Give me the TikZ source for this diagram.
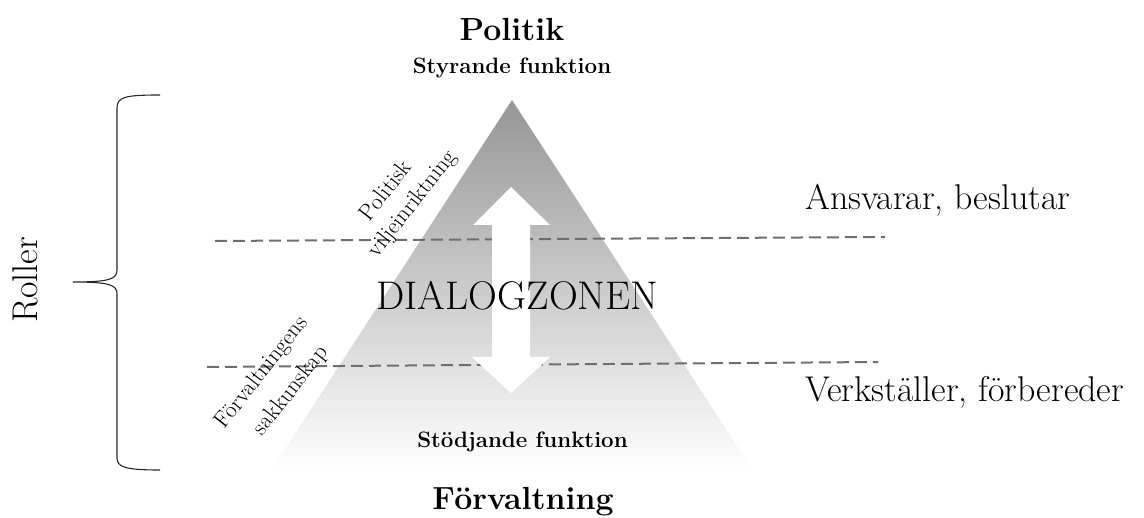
\documentclass[tikz,border=0pt]{standalone}
\usepackage{fontspec}
\begin{document}
\begin{tikzpicture}[x=1pt,y=-1pt,
  dashline/.style={draw={rgb,255:red,110;green,110;blue,110},line width=2pt,dash pattern=on 12pt off 6pt},
  bigbold/.style={inner sep=0pt,font=\fontsize{32}{38}\selectfont\bfseries},
  subbold/.style={inner sep=0pt,font=\fontsize{22.3}{27}\selectfont\bfseries},
  sidetext/.style={inner sep=0pt,font=\fontsize{35.8}{43}\selectfont},
  slanttext/.style={inner sep=0pt,rotate=52,font=\fontsize{23}{27}\selectfont},
  bracestyle/.style={draw={rgb,255:red,40;green,40;blue,40},line width=1.1pt}
]
\useasboundingbox (0,0) rectangle (1144,518);
% pyramid
\shade[top color={rgb,255:red,150;green,150;blue,150},bottom color=white]
  (512,100) -- (754,472) -- (270,472) -- cycle;
% dashed lines
\coordinate (d1a) at (215,241);
\coordinate (d1b) at (885,237);
\coordinate (d2a) at (207,367);
\coordinate (d2b) at (878,362);
\draw[dashline] (d1a) -- (d1b);
\draw[dashline] (d2a) -- (d2b);
% white double arrow
\fill[white] (511,187) -- (550,225) -- (530,225) -- (530,357) -- (550,357) -- (511,393)
  -- (472,357) -- (492,357) -- (492,225) -- (473,225) -- cycle;
% brace
\draw[bracestyle] (160,95) .. controls (125,95) and (117,97) .. (117,108) -- (117,270)
  .. controls (117,279) and (110,282) .. (73,282)
  .. controls (110,282) and (117,285) .. (117,294) -- (117,458)
  .. controls (117,467) and (125,470) .. (160,470);
% texts
\node[bigbold,anchor=base] (pol) at (512,41) {Politik};
\node[subbold,anchor=base] (styr) at (512,74) {Styrande funktion};
\node[subbold,anchor=base] (stod) at (522.5,448) {Stödjande funktion};
\node[bigbold,anchor=base] (forv) at (523,510) {Förvaltning};
\node[inner sep=0pt,anchor=base,font=\fontsize{40}{48}\selectfont] (dial) at (517.5,310) {DIALOGZONEN};
\node[sidetext,anchor=base west] (ansv) at (805,210) {Ansvarar, beslutar};
\node[sidetext,anchor=base west] (verk) at (805,402) {Verkställer, förbereder};
\node[sidetext,anchor=base,rotate=90] (roll) at (37,280) {Roller};
\node[slanttext] (polv1) at (385,190) {Politisk};
\node[slanttext] (polv2) at (413,204) {viljeinriktning};
\node[slanttext] (forv1) at (262,373) {Förvaltningens};
\node[slanttext] (forv2) at (291,391) {sakkunskap};
\end{tikzpicture}
\end{document}
